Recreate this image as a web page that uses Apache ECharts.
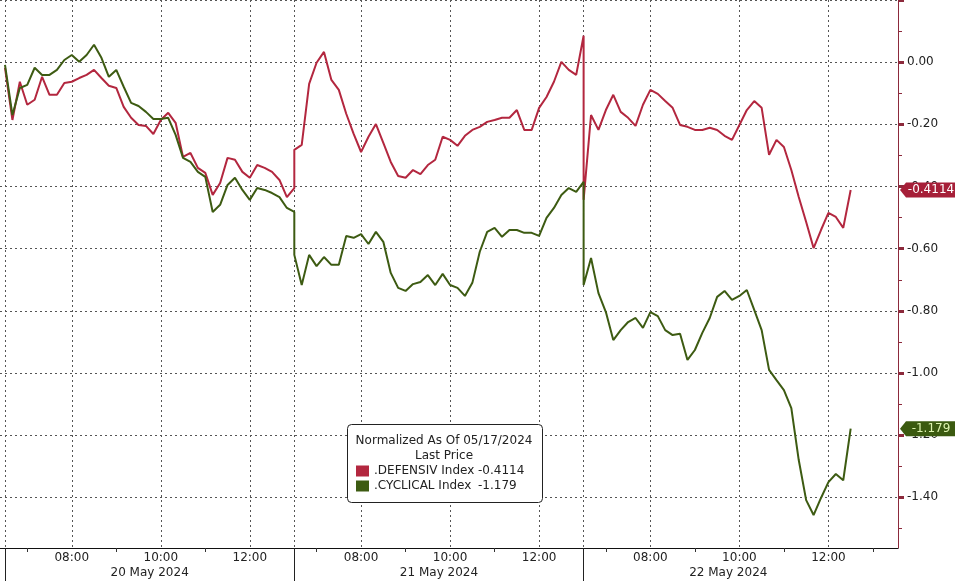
<!DOCTYPE html>
<html>
<head>
<meta charset="utf-8">
<title>Defensive vs Cyclical</title>
<script src="https://cdn.jsdelivr.net/npm/echarts@6/dist/echarts.min.js"></script>
<style>
  html, body { margin: 0; padding: 0; background: #fff; }
  #chart { width: 955px; height: 581px; }
</style>
</head>
<body>
<div id="chart"></div>
<script>
// sessions: 06:30 -> 13:00, one point every 10 minutes
const days = ["20 May 2024", "21 May 2024", "22 May 2024"];
const sessionMinutes = 390;
const openMinute = 390; // 06:30
const step = 10;

const defensiv20 = [-0.018, -0.186, -0.063, -0.137, -0.121, -0.047, -0.105, -0.105, -0.067, -0.063, -0.051, -0.041, -0.025, -0.051, -0.076, -0.083, -0.144, -0.179, -0.202, -0.205, -0.231, -0.186, -0.163, -0.195, -0.305, -0.292, -0.340, -0.356, -0.427, -0.389, -0.308, -0.314, -0.353, -0.372, -0.331, -0.340, -0.353, -0.379, -0.434, -0.405];
const defensiv21 = [-0.282, -0.266, -0.070, -0.002, 0.033, -0.057, -0.089, -0.166, -0.231, -0.289, -0.240, -0.199, -0.260, -0.321, -0.366, -0.372, -0.347, -0.360, -0.331, -0.314, -0.240, -0.250, -0.269, -0.237, -0.218, -0.208, -0.192, -0.186, -0.179, -0.179, -0.154, -0.218, -0.218, -0.147, -0.112, -0.063, 0.001, -0.025, -0.041, 0.085];
const defensiv22 = [-0.443, -0.170, -0.218, -0.154, -0.105, -0.160, -0.179, -0.205, -0.137, -0.089, -0.102, -0.125, -0.147, -0.202, -0.208, -0.218, -0.218, -0.211, -0.218, -0.237, -0.250, -0.202, -0.154, -0.125, -0.147, -0.298, -0.250, -0.273, -0.347, -0.434, -0.514, -0.598, -0.540, -0.485, -0.498, -0.533, -0.4114];

const cyclical20 = [-0.009, -0.170, -0.083, -0.073, -0.018, -0.041, -0.041, -0.025, 0.007, 0.023, 0.001, 0.023, 0.056, 0.014, -0.047, -0.025, -0.079, -0.131, -0.141, -0.160, -0.183, -0.183, -0.179, -0.234, -0.308, -0.321, -0.353, -0.369, -0.482, -0.459, -0.395, -0.372, -0.411, -0.443, -0.405, -0.411, -0.421, -0.434, -0.469, -0.482];
const cyclical21 = [-0.620, -0.717, -0.620, -0.656, -0.627, -0.652, -0.652, -0.559, -0.565, -0.553, -0.585, -0.546, -0.578, -0.678, -0.726, -0.736, -0.714, -0.707, -0.685, -0.717, -0.681, -0.717, -0.726, -0.752, -0.710, -0.610, -0.546, -0.533, -0.562, -0.540, -0.540, -0.549, -0.549, -0.559, -0.501, -0.469, -0.427, -0.405, -0.417, -0.385];
const cyclical22 = [-0.717, -0.630, -0.743, -0.804, -0.894, -0.862, -0.836, -0.823, -0.855, -0.804, -0.817, -0.862, -0.878, -0.874, -0.958, -0.926, -0.871, -0.823, -0.755, -0.736, -0.765, -0.752, -0.733, -0.797, -0.862, -0.990, -1.023, -1.055, -1.113, -1.280, -1.409, -1.457, -1.402, -1.351, -1.325, -1.345, -1.179];

const yTicks = [-1.4, -1.2, -1.0, -0.8, -0.6, -0.4, -0.2, 0, 0.2];
const yMinorTicks = [-1.5, -1.3, -1.1, -0.9, -0.7, -0.5, -0.3, -0.1, 0.1];
const labelOffsets = [90, 210, 330];      // 08:00 10:00 12:00
const smallTickOffsets = [30, 150, 270, 390]; // 07:00 09:00 11:00 13:00

const names = [".DEFENSIV Index", ".CYCLICAL Index"];
const red = "#b3273f";
const green = "#3d5b12";
const font = "DejaVu Sans";

const xMin = -6.74, xMax = 1203.8;
const yMin = -1.563, yMax = 0.2;

function toPoints(sessions) {
  const pts = [];
  sessions.forEach((vals, s) => {
    vals.forEach((v, k) => pts.push([s * sessionMinutes + k * step, v]));
  });
  return pts;
}

const defensiv = toPoints([defensiv20, defensiv21, defensiv22]);
const cyclical = toPoints([cyclical20, cyclical21, cyclical22]);
const lastDef = defensiv22[defensiv22.length - 1];
const lastCyc = cyclical22[cyclical22.length - 1];
const lastValues = { [names[0]]: lastDef, [names[1]]: lastCyc };

const perSession = (offsets) => {
  const out = [];
  days.forEach((d, s) => offsets.forEach((o) => out.push(s * sessionMinutes + o)));
  return out;
};
const sessionStarts = days.map((d, s) => s * sessionMinutes);
const gridXs = sessionStarts.concat(perSession(labelOffsets)).sort((a, b) => a - b);
const labelXs = perSession(labelOffsets);
const smallTickXs = perSession(smallTickOffsets);
const dateXs = days.map((d, s) => s * sessionMinutes + sessionMinutes / 2);

function clock(t) {
  const m = openMinute + (((t % sessionMinutes) + sessionMinutes) % sessionMinutes);
  const h = Math.floor(m / 60), mm = m % 60;
  return String(h).padStart(2, "0") + ":" + String(mm).padStart(2, "0");
}

const baseX = { type: "value", min: xMin, max: xMax, gridIndex: 0, position: "bottom" };
const dotted = { color: "#555", width: 1, type: [2, 3] };

const tag = (value, bg, fg) => ({
  symbol: "path://M0,7L6,0L56,0L56,14L6,14Z",
  symbolSize: [56, 15],
  symbolOffset: [30, 0],
  silent: true,
  itemStyle: { color: bg },
  label: {
    show: true, position: "inside", offset: [3, 0],
    color: fg, fontSize: 12, fontFamily: font,
    formatter: String(value),
  },
  data: [{ coord: [xMax, value] }],
});

const chart = echarts.init(document.getElementById("chart"));
chart.setOption({
  animation: false,
  backgroundColor: "#fff",
  grid: { left: 0, right: 57, top: 0, bottom: 33, containLabel: false },
  xAxis: [
    Object.assign({}, baseX, {
      axisLine: { show: true, onZero: false, lineStyle: { color: "#111", width: 1 } },
      axisTick: { show: false }, axisLabel: { show: false }, splitLine: { show: false },
    }),
    Object.assign({}, baseX, {
      axisLine: { show: false, onZero: false },
      axisTick: { show: false, customValues: gridXs },
      axisLabel: {
        show: true, customValues: labelXs, margin: 4,
        color: "#222", fontSize: 12, fontFamily: font,
        formatter: (v) => clock(v),
      },
      splitLine: { show: true, lineStyle: dotted },
    }),
    Object.assign({}, baseX, {
      axisLine: { show: false, onZero: false },
      axisTick: { show: true, customValues: smallTickXs, length: 4, lineStyle: { color: "#333" } },
      axisLabel: { show: false }, splitLine: { show: false },
    }),
    Object.assign({}, baseX, {
      axisLine: { show: false, onZero: false },
      axisTick: { show: true, customValues: sessionStarts, length: 33, lineStyle: { color: "#222" } },
      axisLabel: { show: false }, splitLine: { show: false },
    }),
    Object.assign({}, baseX, {
      axisLine: { show: false, onZero: false },
      axisTick: { show: false, customValues: dateXs },
      axisLabel: {
        show: true, customValues: dateXs, margin: 19,
        color: "#222", fontSize: 12, fontFamily: font,
        formatter: (v) => days[Math.floor(v / sessionMinutes)],
      },
      splitLine: { show: false },
    }),
  ],
  yAxis: [
    {
      type: "value", position: "right", min: yMin, max: yMax,
      axisLine: { show: true, onZero: false, lineStyle: { color: "#8c2a3c", width: 1 } },
      axisTick: { show: true, customValues: yTicks, length: 6, lineStyle: { color: "#8c2a3c", width: 3 } },
      axisLabel: {
        show: true, customValues: yTicks.filter((v) => v < yMax), margin: 9,
        color: "#222", fontSize: 12, fontFamily: font,
        formatter: (v) => (Math.abs(v) < 1e-9 ? 0 : v).toFixed(2),
      },
      splitLine: { show: true, lineStyle: dotted },
    },
    {
      type: "value", position: "right", min: yMin, max: yMax,
      axisLine: { show: false, onZero: false },
      axisTick: { show: true, customValues: yMinorTicks, length: 4, lineStyle: { color: "#8c2a3c", width: 1 } },
      axisLabel: { show: false }, splitLine: { show: false },
    },
  ],
  legend: {
    data: names,
    orient: "vertical", left: 356, top: 465, padding: 0,
    itemWidth: 13, itemHeight: 11, itemGap: 3, icon: "rect", z: 6,
    selectedMode: false,
    formatter: (name) => "{n|" + name + "}{v|" + lastValues[name] + "}",
    textStyle: {
      color: "#222", fontSize: 12, fontFamily: font,
      rich: {
        n: { width: 104, fontSize: 12, fontFamily: font, color: "#222" },
        v: { fontSize: 12, fontFamily: font, color: "#222" },
      },
    },
  },
  graphic: [
    {
      type: "rect", left: 347, top: 424, z: 5,
      shape: { width: 195, height: 78, r: 4 },
      style: { fill: "#fff", stroke: "#222", lineWidth: 1 },
    },
    {
      type: "text", x: 444, y: 441, z: 6,
      style: { text: "Normalized As Of 05/17/2024", font: "12px " + font, fill: "#222", textAlign: "center", textVerticalAlign: "middle" },
    },
    {
      type: "text", x: 444, y: 456, z: 6,
      style: { text: "Last Price", font: "12px " + font, fill: "#222", textAlign: "center", textVerticalAlign: "middle" },
    },
  ],
  series: [
    {
      name: names[0], type: "line", xAxisIndex: 0, yAxisIndex: 0,
      data: defensiv, showSymbol: false, symbol: "none",
      lineStyle: { color: red, width: 2 }, itemStyle: { color: red },
      markPoint: tag(lastDef, "#a61f38", "#fff"),
    },
    {
      name: names[1], type: "line", xAxisIndex: 0, yAxisIndex: 0,
      data: cyclical, showSymbol: false, symbol: "none",
      lineStyle: { color: green, width: 2 }, itemStyle: { color: green },
      markPoint: tag(lastCyc, "#3b5a10", "#dcf2ae"),
    },
  ],
});
</script>
</body>
</html>
